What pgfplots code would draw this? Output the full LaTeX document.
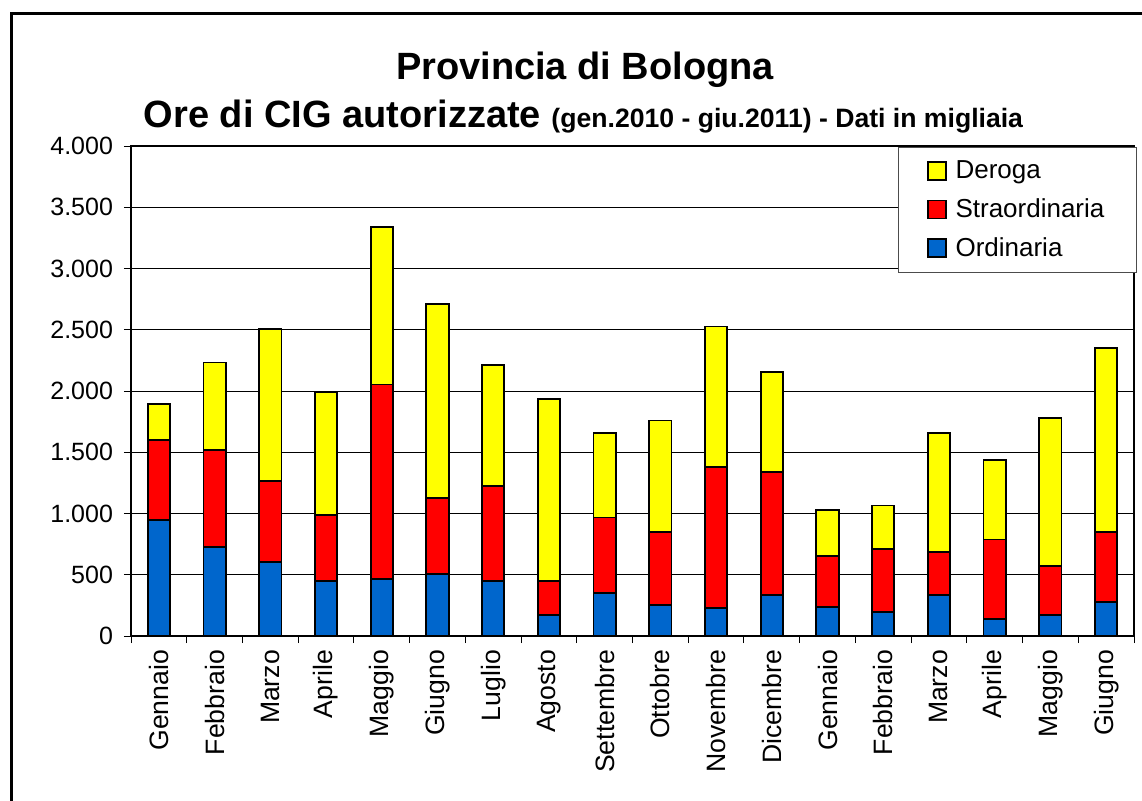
\documentclass[border=0pt]{standalone}
\usepackage{fontspec}
\setmainfont{Liberation Sans}
\usepackage{pgfplots}
\pgfplotsset{compat=1.18}
\usepackage{pgfplotstable}
\definecolor{ordc}{HTML}{0066CC}
\definecolor{strc}{HTML}{FF0000}
\definecolor{derc}{HTML}{FFFF00}
\pgfplotstableread{
x ord str der
0 945 653 297
1 727 790 716
2 605 658 1245
3 449 537 1007
4 468 1585 1288
5 506 619 1584
6 449 774 988
7 174 275 1487
8 351 616 691
9 253 594 912
10 231 1150 1146
11 332 1010 812
12 237 414 376
13 193 518 354
14 332 354 972
15 136 651 653
16 174 398 1206
17 278 572 1500
}\datatable
\begin{document}
\begin{tikzpicture}
\useasboundingbox (0,0) rectangle (571pt,400pt);
\draw[line width=1.3pt] (5.85pt,-5pt) -- (5.85pt,393.15pt) -- (580pt,393.15pt);
\node[anchor=base, font=\fontsize{19}{22}\selectfont\bfseries] at (292.5pt,360pt) {Provincia di Bologna};
\node[anchor=base] at (291.75pt,336pt) {\fontsize{19}{22}\selectfont\bfseries Ore di CIG autorizzate \fontsize{13.3}{16}\selectfont (gen.2010 - giu.2011) - Dati in migliaia};
\begin{axis}[
  at={(65.5pt,82pt)}, anchor=south west, scale only axis,
  width=501.5pt, height=245pt,
  ybar stacked, bar width=0.4,
  xmin=-0.5, xmax=17.5, ymin=0, ymax=4000,
  ytick={0,500,...,4000},
  xtick={0,...,17},
  xticklabels={Gennaio,Febbraio,Marzo,Aprile,Maggio,Giugno,Luglio,Agosto,Settembre,Ottobre,Novembre,Dicembre,Gennaio,Febbraio,Marzo,Aprile,Maggio,Giugno},
  tick pos=left,
  x tick style={draw=none},
  extra x ticks={-0.5,0.5,...,17.5},
  extra x tick labels={},
  extra x tick style={x tick style={draw=black, line width=0.5pt}, tick align=outside, major tick length=3.5pt, grid=none, tick pos=left},
  y tick style={draw=black, line width=0.5pt},
  tick align=outside, major tick length=3.5pt,
  ymajorgrids, major grid style={black, line width=0.45pt},
  axis line style={line width=1pt},
  /pgf/number format/assume math mode=true,
  /pgf/number format/1000 sep={.},
  yticklabel style={font=\fontsize{12.5}{15}\selectfont, xshift=-2pt},
  xticklabel style={font=\fontsize{13.3}{15}\selectfont, rotate=90, anchor=east},
  reverse legend,
  legend style={at={(rel axis cs:1,1)}, anchor=north east, xshift=1.5pt, yshift=-0.5pt,
    draw=black!70, line width=0.6pt, fill=white, font=\fontsize{13}{15}\selectfont,
    inner xsep=14pt, inner ysep=4.5pt, row sep=4.5pt, legend cell align=left,
    /tikz/every odd column/.append style={column sep=2.5pt}},
  legend image code/.code={\draw[#1, draw=black, line width=0.9pt] (0pt,-4.5pt) rectangle (9pt,4.5pt);},
  every axis plot/.append style={draw=black, line width=0.9pt},
]
\addplot[fill=ordc] table[x=x, y=ord] {\datatable};
\addplot[fill=strc] table[x=x, y=str] {\datatable};
\addplot[fill=derc] table[x=x, y=der] {\datatable};
\legend{Ordinaria,Straordinaria,Deroga}
\end{axis}
\end{tikzpicture}
\end{document}
